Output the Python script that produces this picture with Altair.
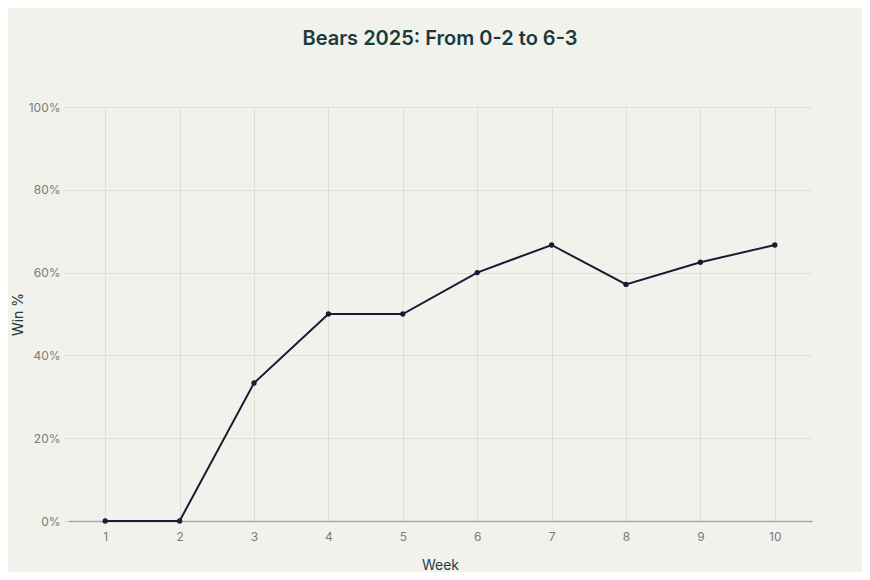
import altair as alt
import pandas as pd

weeks = [1, 2, 3, 4, 5, 6, 7, 8, 9, 10]
win_pct = [0.0, 0.0, 0.3333, 0.5, 0.5, 0.6, 0.6667, 0.5714, 0.625, 0.6667]

df = pd.DataFrame({"Week": weeks, "WinPct": win_pct})

x = alt.X("Week:O", title="Week",
          scale=alt.Scale(paddingOuter=0.5),
          axis=alt.Axis(labelAngle=0, grid=True, ticks=False, domain=True,
                        domainColor="#a9a9a3", domainWidth=1.5,
                        labelPadding=10, titlePadding=16))
y = alt.Y("WinPct:Q", title="Win %",
          scale=alt.Scale(domain=[0, 1]),
          axis=alt.Axis(format=".0%", values=[0, 0.2, 0.4, 0.6, 0.8, 1.0],
                        domain=False, ticks=True, tickSize=4, tickColor="#dcdcd6",
                        labelPadding=4, titlePadding=3))

line = alt.Chart(df).mark_line(color="#141d33", strokeWidth=2).encode(x=x, y=y)
pts = alt.Chart(df).mark_circle(color="#141d33", size=28, opacity=1).encode(x=x, y=y)

chart = (line + pts).properties(
    width=744, height=414,
    title=alt.TitleParams("Bears 2025: From 0-2 to 6-3", fontSize=20, fontWeight=600,
                          color="#1b3a3f", font="Inter", offset=52, anchor="middle"),
    autosize=alt.AutoSizeParams(type="none"),
    padding={"left": 60, "top": 99, "right": 50, "bottom": 51},
).configure(
    background="#f2f2ec",
    font="Inter",
).configure_view(
    stroke=None,
).configure_axis(
    gridColor="#dfdfd9", gridWidth=1,
    labelColor="#7a7a78", labelFontSize=12, labelFont="Inter",
    titleColor="#1f3b44", titleFontSize=14, titleFontWeight="normal", titleFont="Inter",
)

chart.save("out.html", embed_options={"renderer": "svg", "actions": False})
